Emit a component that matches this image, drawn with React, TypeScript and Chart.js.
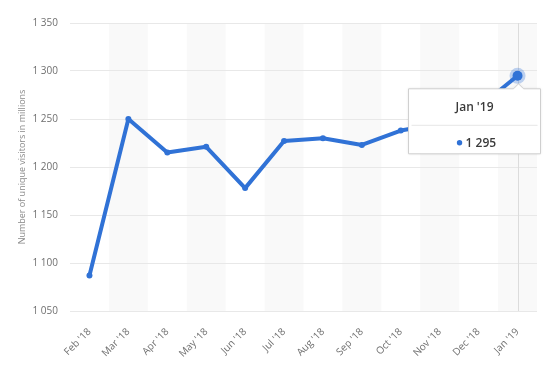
import React, { useEffect, useRef } from "react";
import { Chart, registerables } from "chart.js";

Chart.register(...registerables);

const categories = ["Feb '18", "Mar '18", "Apr '18", "May '18", "Jun '18", "Jul '18", "Aug '18", "Sep '18", "Oct '18", "Nov '18", "Dec '18", "Jan '19"];
const visitors = [1087, 1250, 1215, 1221, 1178, 1227, 1230, 1223, 1238, 1245, 1262, 1295];
const yMin = 1050;
const yMax = 1350;
const yStep = 50;
const yTitle = "Number of unique visitors in millions";
const activeIndex = 11;

const FONT = "'Open Sans', 'DejaVu Sans', sans-serif";
const BLUE = "#3072d6";

const fmt = (v: number) => String(v).replace(/\B(?=(\d{3})+(?!\d))/g, " ");

const bandsPlugin = {
  id: "bands",
  beforeDraw(chart: any) {
    const { ctx, chartArea } = chart;
    const x = chart.scales.x;
    ctx.save();
    ctx.fillStyle = "#f9f9f9";
    for (let i = 0; i < categories.length; i++) {
      if (i % 2 === 1) {
        const c = x.getPixelForValue(i);
        const w = x.width / categories.length;
        ctx.fillRect(c - w / 2, chartArea.top, w, chartArea.bottom - chartArea.top);
      }
    }
    ctx.restore();
  },
  beforeDatasetsDraw(chart: any) {
    const { ctx, chartArea } = chart;
    const px = chart.scales.x.getPixelForValue(activeIndex);
    ctx.save();
    ctx.strokeStyle = "#dcdcdc";
    ctx.lineWidth = 1;
    ctx.beginPath();
    ctx.moveTo(Math.round(px) + 0.5, chartArea.top);
    ctx.lineTo(Math.round(px) + 0.5, chartArea.bottom);
    ctx.stroke();
    ctx.restore();
  },
};

const tooltipPlugin = {
  id: "fakeTooltip",
  afterDraw(chart: any) {
    const { ctx } = chart;
    const px = chart.scales.x.getPixelForValue(activeIndex);
    const py = chart.scales.y.getPixelForValue(visitors[activeIndex]);
    ctx.save();
    // active point halo
    ctx.fillStyle = "rgba(48,114,214,0.3)";
    ctx.beginPath();
    ctx.arc(px, py, 8, 0, Math.PI * 2);
    ctx.fill();
    ctx.fillStyle = BLUE;
    ctx.beginPath();
    ctx.arc(px, py, 5, 0, Math.PI * 2);
    ctx.fill();

    const bx = px - 109;
    const by = py + 13;
    const bw = 132;
    const bh = 65;
    ctx.shadowColor = "rgba(0,0,0,0.12)";
    ctx.shadowBlur = 3;
    ctx.fillStyle = "#ffffff";
    ctx.beginPath();
    ctx.moveTo(bx, by);
    ctx.lineTo(px - 4, by);
    ctx.lineTo(px + 1, by - 5);
    ctx.lineTo(px + 6, by);
    ctx.lineTo(bx + bw, by);
    ctx.lineTo(bx + bw, by + bh);
    ctx.lineTo(bx, by + bh);
    ctx.closePath();
    ctx.fill();
    ctx.shadowColor = "transparent";
    ctx.strokeStyle = "#cfcfcf";
    ctx.lineWidth = 1;
    ctx.stroke();

    ctx.fillStyle = "#3a3a3a";
    ctx.textAlign = "center";
    ctx.textBaseline = "middle";
    ctx.font = `600 12px ${FONT}`;
    ctx.fillText(categories[activeIndex], bx + bw / 2, by + 19);

    ctx.strokeStyle = "#e6e6e6";
    ctx.beginPath();
    ctx.moveTo(bx + 3, by + 36.5);
    ctx.lineTo(bx + bw - 3, by + 36.5);
    ctx.stroke();

    ctx.fillStyle = BLUE;
    ctx.beginPath();
    ctx.arc(bx + 51, by + 54, 2.7, 0, Math.PI * 2);
    ctx.fill();
    ctx.fillStyle = "#3a3a3a";
    ctx.textAlign = "left";
    ctx.font = `600 12px ${FONT}`;
    ctx.fillText(fmt(visitors[activeIndex]), bx + 57, by + 54.5);
    ctx.restore();
  },
};

export default function App() {
  const ref = useRef<HTMLCanvasElement>(null);
  useEffect(() => {
    document.body.style.margin = "0";
    const chart = new Chart(ref.current as HTMLCanvasElement, {
      type: "line",
      data: {
        labels: categories,
        datasets: [
          {
            data: visitors,
            borderColor: BLUE,
            backgroundColor: BLUE,
            borderWidth: 4,
            pointRadius: 3,
            pointBorderWidth: 0,
            pointBackgroundColor: BLUE,
            tension: 0,
            borderJoinStyle: "round",
            borderCapStyle: "round",
          },
        ],
      },
      options: {
        animation: false,
        responsive: false,
        devicePixelRatio: 1,
        events: [],
        layout: { padding: { top: 23, right: 21, left: 0, bottom: 0 } },
        plugins: { legend: { display: false }, tooltip: { enabled: false } },
        scales: {
          x: {
            offset: true,
            grid: { display: false },
            border: { display: false },
            ticks: {
              color: "#6f6f6f",
              font: { family: FONT, size: 10 },
              minRotation: 45,
              maxRotation: 45,
              autoSkip: false,
              padding: 7,
            },
            afterFit(scale: any) {
              scale.height = 65;
            },
          },
          y: {
            min: yMin,
            max: yMax,
            border: { display: false },
            grid: { color: "#e8e8e8", drawTicks: false },
            ticks: {
              stepSize: yStep,
              color: "#6f6f6f",
              padding: 12,
              font: { family: FONT, size: 10 },
              callback: (v: any) => fmt(Number(v)),
            },
            title: {
              display: true,
              text: yTitle,
              color: "#8a8a8a",
              font: { family: FONT, size: 9 },
              padding: { top: 17, bottom: 0 },
            },
            afterFit(scale: any) {
              scale.width = 70;
            },
          },
        },
      },
      plugins: [bandsPlugin, tooltipPlugin],
    } as any);
    return () => chart.destroy();
  }, []);
  return (
    <div style={{ position: "relative", width: 558, height: 376, background: "#fff" }}>
      <canvas ref={ref} width={558} height={376} />
    </div>
  );
}
